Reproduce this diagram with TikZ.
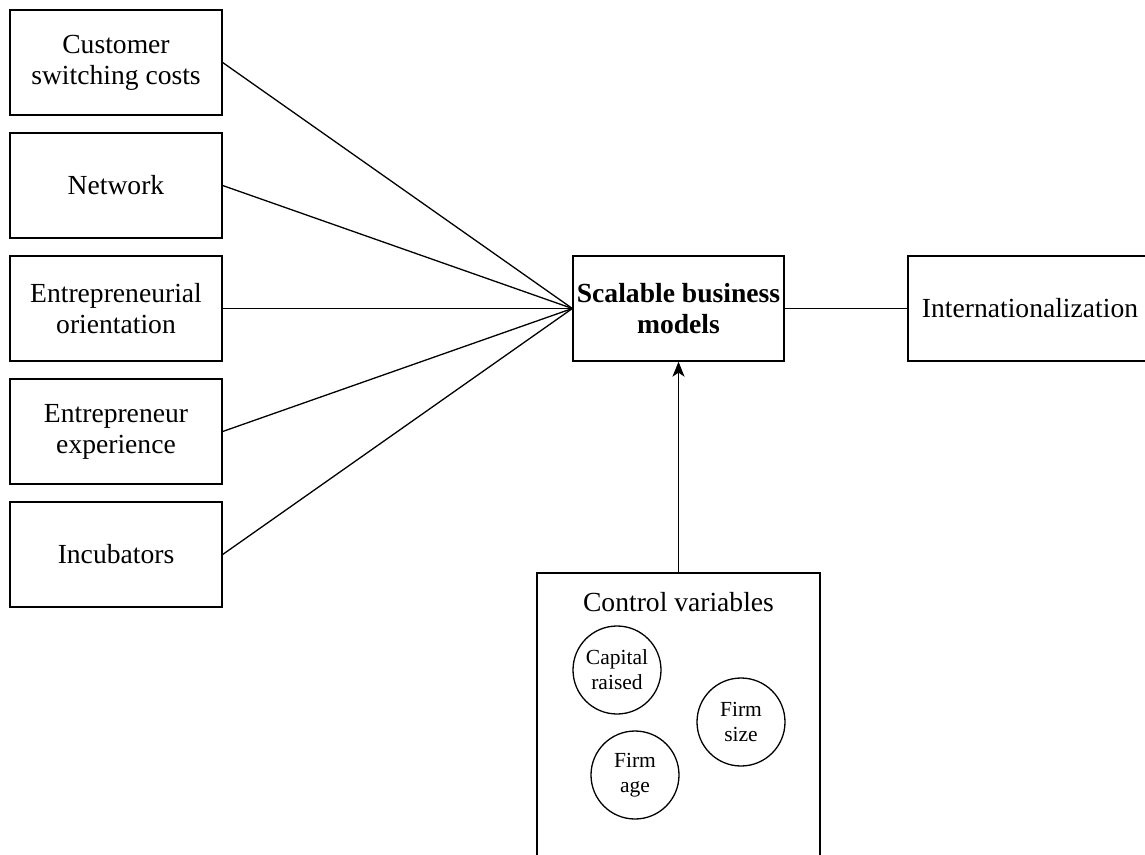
\documentclass[tikz,border=0pt]{standalone}
\usepackage{fontspec}
\setmainfont{Liberation Serif}
\usepackage{tikz}
\usetikzlibrary{arrows.meta}

\begin{document}
\begin{tikzpicture}[x=1pt,y=-1pt,line width=1.3pt,
                    factor/.style={rectangle,draw=black,align=center,minimum width=212pt,minimum height=105pt,font=\fontsize{27.6}{31}\selectfont},
                    ctrlvar/.style={circle,draw=black,align=center,minimum size=88pt,inner sep=0pt,font=\fontsize{21.5}{25}\selectfont}]
                      \useasboundingbox (0,0) rectangle (1145,854);
                      
                      \node (csc) at (116,62.5) [factor] {Customer\\switching costs};
                      \node (net) at (116,185.5) [factor] {Network};
                      \node (eo) at (116,308.5) [factor] {Entrepreneurial\\orientation};
                      \node (ee) at (116,431.5) [factor] {Entrepreneur\\experience};
                      \node (inc) at (116,554.5) [factor] {Incubators};
                      
                      \node (sbm) at (678.5,308.5) [factor,minimum width=211pt,font=\fontsize{27.6}{31}\selectfont\bfseries] {Scalable business\\models};
                      \node (intl) at (1030,308.5) [factor,minimum width=244pt] {Internationalization};
                      
                      \node (ctrl) at (678.5,723) [factor,minimum width=283pt,minimum height=300pt] {};
                      \node (ctrltitle) at (678.5,602) [font=\fontsize{27.6}{31}\selectfont] {Control variables};
                      \node (cap) at (617,670) [ctrlvar] {Capital\\raised};
                      \node (size) at (741,722) [ctrlvar] {Firm\\size};
                      \node (age) at (635,775) [ctrlvar] {Firm\\age};
                      
                      \draw (csc.east)--(sbm.west);
                      \draw (net.east)--(sbm.west);
                      \draw (eo.east)--(sbm.west);
                      \draw (ee.east)--(sbm.west);
                      \draw (inc.east)--(sbm.west);
                      \draw (sbm.east)--(intl.west);
                      \draw[-{Stealth[length=15pt,width=12pt,inset=4pt]}] (ctrl.north)--(sbm.south);
                \end{tikzpicture}
\end{document}
